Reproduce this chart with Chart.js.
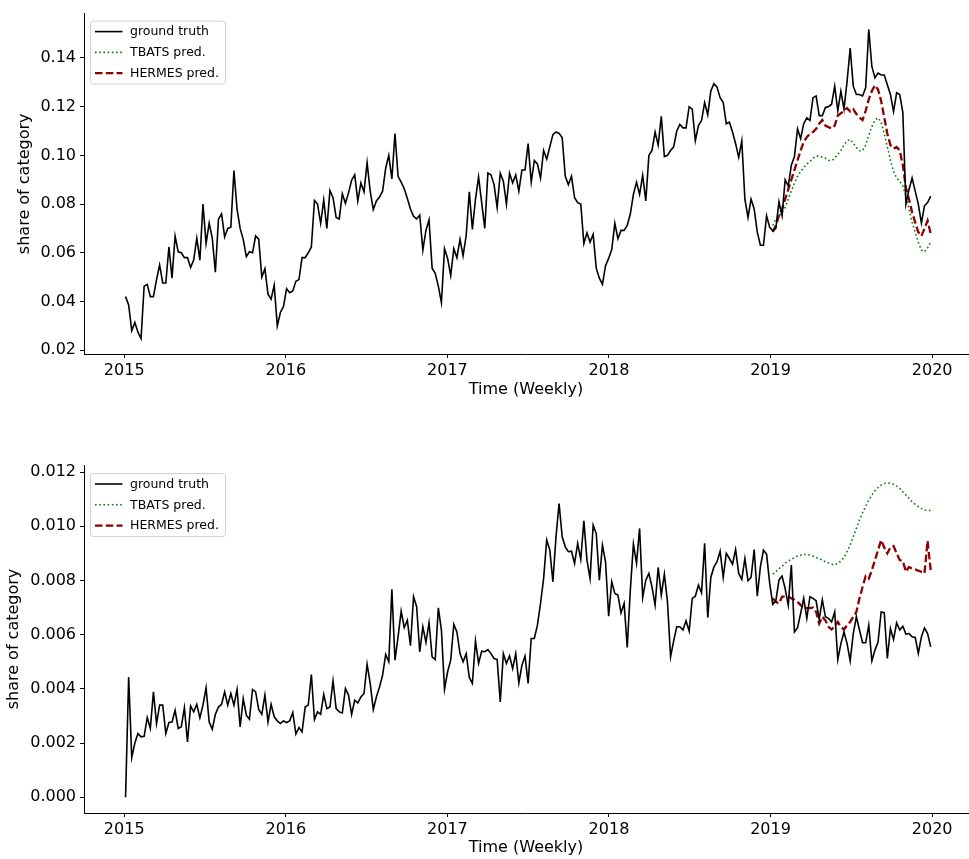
<!DOCTYPE html>
<html><head><meta charset="utf-8">
<script src="https://cdn.jsdelivr.net/npm/chart.js@4.4.0/dist/chart.umd.min.js"></script>
<style>
html,body{margin:0;padding:0;background:#fff;}
#wrap{position:relative;width:969px;height:859px;overflow:hidden;}
.box{position:absolute;left:0;width:969px;}
canvas{display:block;}
</style></head><body>
<div id="wrap">
<div class="box" style="top:0;height:410px"><canvas id="c1" width="969" height="410" style="width:969px;height:410px"></canvas></div>
<div class="box" style="top:410px;height:449px"><canvas id="c2" width="969" height="449" style="width:969px;height:449px"></canvas></div>
</div>
<script>
// ---------- categories (weekly dates) ----------
const firstWeekOffsetDays = 3;        // 2015-01-04
const weekCount = 261;                // weekly points 2015-01-04 .. 2019-12-29
const predStartIndex = 209;           // first forecast week (2019)
const legendLabels = ['ground truth', 'TBATS pred.', 'HERMES pred.'];
const xTitle = 'Time (Weekly)';
const yTitle = 'share of category';
const xTickValues = [2015, 2016, 2017, 2018, 2019, 2020];
const xTickLabels = ['2015', '2016', '2017', '2018', '2019', '2020'];
const yTickValuesTop = [0.02, 0.04, 0.06, 0.08, 0.10, 0.12, 0.14];
const yTickLabelsTop = ['0.02', '0.04', '0.06', '0.08', '0.10', '0.12', '0.14'];
const yTickValuesBot = [0, 0.002, 0.004, 0.006, 0.008, 0.010, 0.012];
const yTickLabelsBot = ['0.000', '0.002', '0.004', '0.006', '0.008', '0.010', '0.012'];

// ---------- top panel series ----------
const truthTop = [
0.042,0.0386,0.028,0.0314,0.0274,0.0248,0.0463,0.047,0.042,0.042,
0.049,0.055,0.0476,0.0476,0.0624,0.0496,0.0669,0.0604,0.060,0.058,
0.058,0.054,0.057,0.066,0.057,0.080,0.0638,0.0722,0.066,0.052,
0.0738,0.076,0.0665,0.070,0.0705,0.0938,0.078,0.070,0.0655,0.0584,
0.0604,0.060,0.0669,0.0656,0.050,0.0535,0.043,0.041,0.0467,0.030,
0.0355,0.038,
0.0453,0.0436,0.0443,0.0483,0.049,0.058,0.058,0.060,0.0624,0.0815,
0.080,0.0721,0.0817,0.070,0.0856,0.0826,0.0745,0.0739,0.0842,0.0803,
0.0846,0.0898,0.092,0.0813,0.0887,0.085,0.097,0.0853,0.0777,0.0813,
0.0829,0.0853,0.0947,0.100,0.0903,0.109,0.0914,0.089,0.0863,0.0823,
0.078,0.075,0.0739,0.0755,0.0611,0.0692,0.0735,0.0537,0.0516,0.0463,
0.0395,0.0617,
0.0577,0.0507,0.0617,0.058,0.0655,0.0588,0.0671,0.085,0.0696,0.082,
0.0911,0.0806,0.070,0.0927,0.092,0.088,0.0786,0.0927,0.0894,0.080,
0.0927,0.0887,0.092,0.0853,0.094,0.094,0.1048,0.089,0.0979,0.0965,
0.0907,0.102,0.0985,0.1035,0.1085,0.1096,0.109,0.1073,0.0914,0.088,
0.0914,0.0826,0.0806,0.080,0.0638,0.0682,0.0644,0.0676,0.0537,0.0496,
0.047,0.0547,
0.0577,0.0613,0.0721,0.0658,0.0692,0.0692,0.0712,0.0759,0.084,0.089,
0.084,0.0918,0.0813,0.100,0.102,0.1096,0.1042,0.116,0.0995,0.100,
0.102,0.1035,0.110,0.1127,0.1113,0.1113,0.120,0.119,0.106,0.1122,
0.1143,0.1217,0.1167,0.1264,0.1294,0.128,0.1237,0.1217,0.113,0.1136,
0.1096,0.1048,0.0992,0.106,0.082,0.0745,0.082,0.078,0.0685,0.0631,
0.0631,0.0752,
0.0705,0.069,0.070,0.0809,0.0752,0.090,0.0874,0.096,0.0995,0.1109,
0.1069,0.113,0.1154,0.1143,0.1237,0.1244,0.1163,0.1163,0.1197,0.120,
0.121,0.1284,0.1183,0.1264,0.119,0.1304,0.144,0.1284,0.125,0.125,
0.1244,0.1277,0.1517,0.1365,0.1318,0.1338,0.133,0.133,0.129,0.125,
0.118,0.1257,0.125,0.1177,0.080,0.086,0.0907,0.0853,0.080,0.0722,
0.0793,0.0806,0.0833
];
const tbatsTop = [
0.0712,0.0739,0.0752,0.0766,0.0786,0.082,0.0853,0.0887,0.0914,0.0934,
0.095,0.0965,0.0975,0.0988,0.0997,0.0997,0.0992,0.0988,0.098,0.0978,
0.0988,0.1005,0.102,0.1042,0.106,0.1065,0.1051,0.1032,0.1019,0.1019,
0.1042,0.1082,0.1118,0.1145,0.1154,0.1136,0.1089,0.1035,0.098,0.0934,
0.0907,0.0894,0.0874,0.0833,0.078,0.0725,0.0685,0.0644,0.0611,0.0604,
0.062,0.0644
];
const hermesTop = [
0.0685,0.0712,0.0752,0.078,0.082,0.086,0.090,0.094,0.098,0.102,
0.1055,0.1075,0.1089,0.1096,0.1109,0.113,0.1145,0.1122,0.1116,0.111,
0.1122,0.1163,0.1173,0.1183,0.1194,0.118,0.119,0.117,0.1156,0.1145,
0.1183,0.123,0.1264,0.1288,0.127,0.1223,0.1156,0.1089,0.1042,0.1028,
0.1035,0.102,0.096,0.0867,0.082,0.0766,0.0725,0.0685,0.0669,0.070,
0.0732,0.0678
];

// ---------- bottom panel series ----------
const truthBot = [
0.000,0.00444,0.00147,0.0020,0.00235,0.00223,0.00225,0.00294,0.00254,0.00389,
0.00272,0.0034,0.0034,0.00235,0.00276,0.00278,0.00321,0.00254,0.0026,0.00331,
0.00204,0.00337,0.00315,0.00343,0.00293,0.0034,0.00404,0.00278,0.00251,0.00306,
0.00333,0.00343,0.00389,0.0034,0.00383,0.0034,0.00398,0.0026,0.00364,0.00303,
0.00288,0.00398,0.00389,0.00324,0.00306,0.00377,0.00278,0.00343,0.00297,0.00282,
0.00272,0.00282,
0.00276,0.00282,0.00313,0.00233,0.00257,0.00241,0.00333,0.0034,0.00453,0.00287,
0.00315,0.00306,0.0038,0.00327,0.00333,0.00429,0.00327,0.00315,0.00311,0.00401,
0.00377,0.00306,0.00358,0.00348,0.0037,0.00383,0.00491,0.0042,0.00324,0.0037,
0.00407,0.0045,0.00527,0.005,0.00767,0.00506,0.00592,0.00687,0.00626,0.00653,
0.00559,0.0074,0.00703,0.00536,0.00629,0.00571,0.00644,0.00518,0.00508,0.00699,
0.00617,0.00399,
0.00463,0.00506,0.00638,0.0061,0.0053,0.005,0.0053,0.00442,0.0042,0.00577,
0.00494,0.00539,0.00537,0.00545,0.0053,0.00512,0.00508,0.00352,0.0053,0.00494,
0.00522,0.00475,0.0053,0.00422,0.00487,0.00521,0.0042,0.00586,0.00586,0.00635,
0.00715,0.00807,0.00949,0.00912,0.00795,0.00961,0.01084,0.00961,0.00924,0.00906,
0.00908,0.00863,0.00937,0.00878,0.0102,0.00875,0.00807,0.01004,0.00973,0.00801,
0.0093,0.00869,
0.00668,0.00795,0.00752,0.00746,0.0068,0.00715,0.00553,0.00764,0.00934,0.00863,
0.00992,0.00737,0.00801,0.00826,0.00776,0.00709,0.00848,0.00746,0.00823,0.00721,
0.00518,0.00577,0.00629,0.00629,0.00617,0.00651,0.00613,0.00734,0.00742,0.00783,
0.00754,0.00937,0.00663,0.00811,0.0085,0.00869,0.00908,0.00811,0.009,0.00881,
0.0086,0.00914,0.00826,0.00804,0.00881,0.00799,0.00811,0.00914,0.00742,0.0085,
0.00912,0.00897,
0.0079,0.00712,0.00725,0.00801,0.00816,0.0077,0.00709,0.00857,0.0061,0.00626,
0.00678,0.00734,0.0066,0.0074,0.00734,0.00725,0.00656,0.00729,0.00666,0.0066,
0.00647,0.00684,0.00508,0.00567,0.0061,0.00567,0.00503,0.00604,0.00666,0.00617,
0.0057,0.0057,0.00635,0.00503,0.00543,0.00573,0.00684,0.00681,0.00512,0.00623,
0.00582,0.00644,0.00617,0.00631,0.00602,0.00604,0.00592,0.0059,0.00531,0.00592,
0.00625,0.00604,0.00555
];
const tbatsBot = [
0.00823,0.00832,0.00844,0.00852,0.00863,0.00872,0.00877,0.00885,0.0089,0.00893,
0.00896,0.00896,0.00893,0.0089,0.00885,0.00881,0.00875,0.00868,0.00864,0.0086,
0.00858,0.00863,0.00872,0.00885,0.00906,0.0093,0.00961,0.00992,0.01023,0.0105,
0.01074,0.01097,0.01115,0.01131,0.01143,0.01152,0.01158,0.0116,0.01158,0.01155,
0.01148,0.0114,0.01127,0.01115,0.01103,0.0109,0.01081,0.01073,0.01066,0.0106,
0.01058,0.01058
];
const hermesBot = [
0.00734,0.00721,0.00715,0.0074,0.0074,0.0074,0.00734,0.00729,0.00721,0.00709,
0.007,0.00698,0.00698,0.007,0.00684,0.00641,0.00666,0.00653,0.00629,0.00619,
0.00631,0.00647,0.00629,0.00619,0.00635,0.00647,0.00666,0.00684,0.00734,0.00776,
0.00816,0.00807,0.00838,0.00875,0.00912,0.00949,0.00922,0.009,0.00922,0.00927,
0.009,0.00875,0.00872,0.00832,0.0085,0.00844,0.00841,0.00836,0.00832,0.00826,
0.00946,0.00838
];

// ---------- helpers ----------
function weekX(i) { return 2015 + (firstWeekOffsetDays + 7 * i) / 365.25; }
function toPoints(arr, offset) { return arr.map((v, i) => ({ x: weekX(i + offset), y: v })); }

Chart.defaults.font.family = '"DejaVu Sans", sans-serif';
Chart.defaults.color = '#000';

const mplLegend = {
  id: 'mplLegend',
  afterDatasetsDraw(chart, args, opts) {
    const ctx = chart.ctx, a = chart.chartArea;
    const x0 = a.left + opts.dx, y0 = a.top + opts.dy, w = opts.width, h = opts.height, r = 3;
    ctx.save();
    ctx.beginPath();
    ctx.moveTo(x0 + r, y0);
    ctx.lineTo(x0 + w - r, y0); ctx.arcTo(x0 + w, y0, x0 + w, y0 + r, r);
    ctx.lineTo(x0 + w, y0 + h - r); ctx.arcTo(x0 + w, y0 + h, x0 + w - r, y0 + h, r);
    ctx.lineTo(x0 + r, y0 + h); ctx.arcTo(x0, y0 + h, x0, y0 + h - r, r);
    ctx.lineTo(x0, y0 + r); ctx.arcTo(x0, y0, x0 + r, y0, r);
    ctx.closePath();
    ctx.fillStyle = 'rgba(255,255,255,0.8)';
    ctx.fill();
    ctx.strokeStyle = '#d0d0d0';
    ctx.lineWidth = 1;
    ctx.stroke();
    ctx.font = '12.5px "DejaVu Sans", sans-serif';
    ctx.textBaseline = 'middle';
    ctx.textAlign = 'left';
    chart.data.datasets.forEach((ds, i) => {
      const cy = y0 + opts.firstRow + i * opts.rowGap;
      ctx.beginPath();
      ctx.setLineDash(ds.borderDash || []);
      ctx.strokeStyle = ds.borderColor;
      ctx.lineWidth = ds.borderWidth;
      ctx.moveTo(x0 + 4.5, cy); ctx.lineTo(x0 + 32, cy);
      ctx.stroke();
      ctx.setLineDash([]);
      ctx.fillStyle = '#000';
      ctx.fillText(ds.label, x0 + 39.5, cy + 0.5);
    });
    ctx.restore();
  }
};

function makeChart(id, truth, tbats, hermes, cfg) {
  return new Chart(document.getElementById(id), {
    type: 'line',
    plugins: [mplLegend],
    data: {
      datasets: [
        { label: legendLabels[0], data: toPoints(truth, 0), borderColor: '#000000', borderWidth: 1.6, pointRadius: 0, tension: 0, fill: false },
        { label: legendLabels[1], data: toPoints(tbats, predStartIndex), borderColor: '#008000', borderWidth: 1.6, borderDash: [1.6, 2.6], pointRadius: 0, tension: 0, fill: false },
        { label: legendLabels[2], data: toPoints(hermes, predStartIndex), borderColor: '#8b0000', borderWidth: 2.3, borderDash: [7.5, 3.3], pointRadius: 0, tension: 0, fill: false }
      ]
    },
    options: {
      responsive: false,
      animation: false,
      events: [],
      layout: { padding: { top: cfg.padTop, right: 1, left: 0, bottom: 0 } },
      plugins: {
        legend: { display: false },
        tooltip: { enabled: false },
        mplLegend: { dx: 6.5, dy: cfg.legendDy, width: 135, height: 63, firstRow: 10.5, rowGap: 20.8 }
      },
      scales: {
        x: {
          type: 'linear', min: 2014.751, max: 2020.222,
          afterBuildTicks: (s) => { s.ticks = xTickValues.map(v => ({ value: v })); },
          afterFit: (s) => { s.height = cfg.xHeight; },
          ticks: { autoSkip: false, maxRotation: 0, padding: 3, font: { size: 16 }, color: '#000',
            callback: (v) => xTickLabels[xTickValues.indexOf(v)] },
          grid: { display: true, drawOnChartArea: false, drawTicks: true, tickLength: 4, color: '#000', lineWidth: 1 },
          border: { display: true, color: '#000', width: 1 },
          title: { display: true, text: xTitle, font: { size: 16 }, color: '#000', padding: { top: 0, bottom: cfg.xTitlePad } }
        },
        y: {
          type: 'linear', min: cfg.yMin, max: cfg.yMax,
          afterBuildTicks: (s) => { s.ticks = cfg.yTicks.map(v => ({ value: v })); },
          afterFit: (s) => { s.width = 84; },
          ticks: { autoSkip: false, padding: 4, font: { size: 16 }, color: '#000',
            callback: (v) => cfg.yLabels[cfg.yTicks.findIndex(t => Math.abs(t - v) < 1e-9)] },
          grid: { display: true, drawOnChartArea: false, drawTicks: true, tickLength: 4, color: '#000', lineWidth: 1 },
          border: { display: true, color: '#000', width: 1 },
          title: { display: true, text: yTitle, font: { size: 16 }, color: '#000', padding: { top: cfg.yTitlePad, bottom: 0 } }
        }
      }
    }
  });
}

makeChart('c1', truthTop, tbatsTop, hermesTop, {
  padTop: 8, xHeight: 56, xTitlePad: 11, yMin: 0.01845, yMax: 0.1582,
  yTicks: yTickValuesTop, yLabels: yTickLabelsTop, yTitlePad: 15, legendDy: 7.5
});
makeChart('c2', truthBot, tbatsBot, hermesBot, {
  padTop: 55, xHeight: 46, xTitlePad: 1.4, yMin: -0.00058, yMax: 0.01226,
  yTicks: yTickValuesBot, yLabels: yTickLabelsBot, yTitlePad: 4.5, legendDy: 8.5
});
</script>
</body></html>
